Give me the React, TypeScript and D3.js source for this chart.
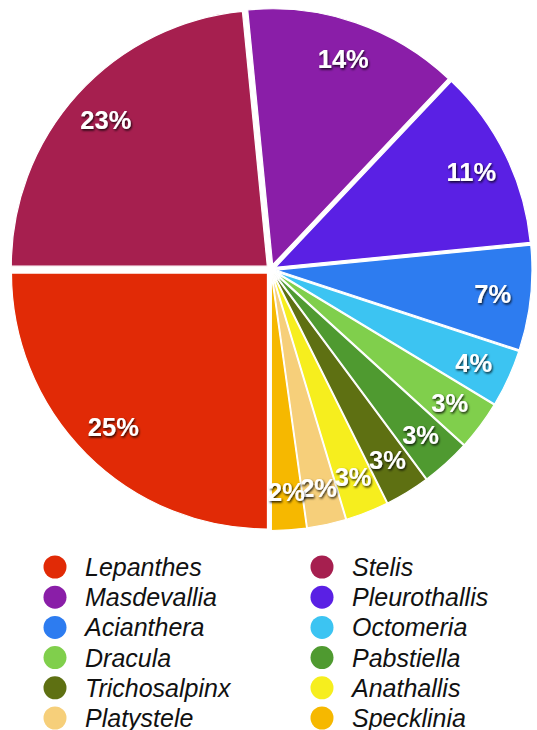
import * as d3 from 'd3';

// genera and their share of species (labels are rounded)
const genera = [
  'Lepanthes', 'Stelis', 'Masdevallia', 'Pleurothallis', 'Acianthera', 'Octomeria',
  'Dracula', 'Pabstiella', 'Trichosalpinx', 'Anathallis', 'Platystele', 'Specklinia',
];
const shares = [25, 23.45, 13.6, 11.4, 6.6, 3.6, 3.1, 3.1, 2.8, 2.7, 2.45, 2.2];
const colors = [
  '#e12a06', '#a61f4f', '#8a1ea8', '#5a20e4', '#2d7cf0', '#3cc4f2',
  '#80cf4c', '#4f9a30', '#5e7012', '#f6ee1e', '#f6cf7a', '#f6b800',
];

type Slice = { name: string; value: number; color: string };

const W = 537;
const H = 730;
const cx = 271;
const cy = 269.5;
const R = 256;
const explode = 5;

const App = () => {
  const data: Slice[] = genera.map((name, i) => ({ name, value: shares[i], color: colors[i] }));
  const pie = d3.pie<Slice>().value(d => d.value).sort(null).startAngle(Math.PI).endAngle(3 * Math.PI);
  const arcs = pie(data);
  const arc = d3.arc<d3.PieArcDatum<Slice>>().innerRadius(0).outerRadius(R);
  const labelArc = d3.arc<d3.PieArcDatum<Slice>>().innerRadius(218).outerRadius(218);

  const shift = (d: d3.PieArcDatum<Slice>) => {
    const mid = (d.startAngle + d.endAngle) / 2;
    return [explode * Math.sin(mid), -explode * Math.cos(mid)];
  };

  return (
    <svg width={W} height={H} style={{ position: 'absolute', left: 0, top: 0, background: '#fff' }}>
      <defs>
        <filter id="shadow" x="-30%" y="-30%" width="160%" height="160%">
          <feDropShadow dx="1" dy="1.5" stdDeviation="1.2" floodColor="#000" floodOpacity="0.85" />
        </filter>
      </defs>
      <g transform={`translate(${cx},${cy})`}>
        {arcs.map(d => {
          const [dx, dy] = shift(d);
          return (
            <path key={d.data.name} d={arc(d) ?? ''} transform={`translate(${dx},${dy})`}
              fill={d.data.color} stroke="#fff" strokeWidth={1.2} />
          );
        })}
        {arcs.map(d => {
          const [dx, dy] = shift(d);
          const [lx, ly] = labelArc.centroid(d);
          return (
            <text key={d.data.name} x={lx + dx} y={ly + dy} dy="0.36em" textAnchor="middle"
              fill="#fff" fontFamily="'Liberation Sans', Arial, sans-serif" fontWeight="bold"
              fontSize={25.5} filter="url(#shadow)">
              {`${Math.round(d.data.value)}%`}
            </text>
          );
        })}
      </g>
      <g fontFamily="'Liberation Sans', Arial, sans-serif" fontStyle="italic" fontSize={25} fill="#111">
        {data.map((d, i) => {
          const x = i % 2 === 0 ? 55 : 322;
          const y = 567 + Math.floor(i / 2) * 30.2;
          return (
            <g key={d.name}>
              <circle cx={x} cy={y} r={11.5} fill={d.color} />
              <text x={x + 30} y={y + 9}>{d.name}</text>
            </g>
          );
        })}
      </g>
    </svg>
  );
};

export default App;
